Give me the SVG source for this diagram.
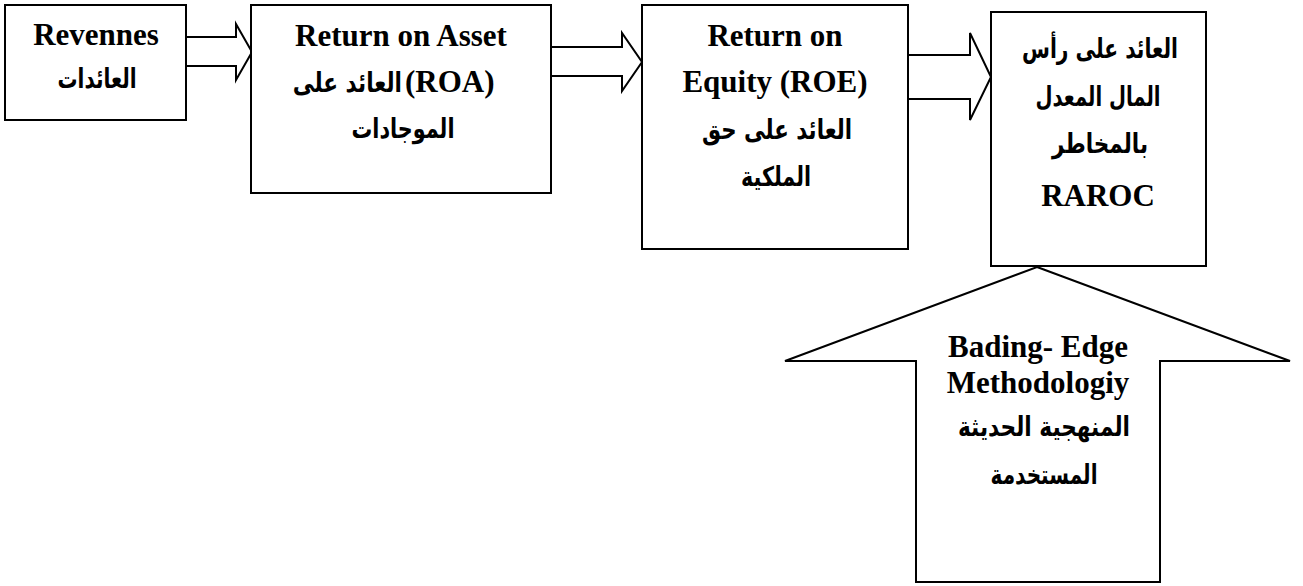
<svg xmlns="http://www.w3.org/2000/svg" width="1303" height="586" viewBox="0 0 1303 586">
<style>
.shape{fill:#fff;stroke:#000;stroke-width:2;stroke-linejoin:miter}
.en{font-family:"Liberation Serif","Times New Roman",serif;font-weight:bold;font-size:31px;fill:#000;text-anchor:middle}
.en0{font-family:"Liberation Serif","Times New Roman",serif;font-weight:bold;font-size:31px;fill:#000}
.ar{font-family:"DejaVu Sans","Noto Sans",sans-serif;font-weight:bold;font-size:27px;fill:#000;text-anchor:middle}
.ar1{font-family:"DejaVu Sans","Noto Sans",sans-serif;font-weight:bold;font-size:27px;fill:#000;text-anchor:end}
</style>
<rect width="1303" height="586" fill="#fff"/>
<g id="connectors">
<polygon class="shape" points="186,37 236,37 236,24 252,52 236,80 236,66 186,66"/>
<polygon class="shape" points="551,47 622,47 622,33 642,62 622,91 622,76 551,76"/>
<polygon class="shape" points="908,55 970,55 970,33 991,77 970,120 970,99 908,99"/>
</g>
<g id="node-revenues">
<rect class="shape" x="5" y="5" width="181" height="115"/>
<text class="en" x="96" y="45">Revennes</text>
<text class="ar" x="97" y="88" textLength="79" lengthAdjust="spacingAndGlyphs">العائدات</text>
</g>
<g id="node-roa">
<rect class="shape" x="251" y="5" width="300" height="188"/>
<text class="en" x="401" y="46">Return on Asset</text>
<text class="ar1" transform="translate(402,92) scale(0.8,1)">العائد على</text>
<text class="en0" x="405" y="92">(ROA)</text>
<text class="ar" x="403" y="138" textLength="103" lengthAdjust="spacingAndGlyphs">الموجادات</text>
</g>
<g id="node-roe">
<rect class="shape" x="642" y="5" width="266" height="244"/>
<text class="en" x="775" y="46">Return on</text>
<text class="en" x="775" y="92">Equity (ROE)</text>
<text class="ar" x="777" y="139" textLength="150" lengthAdjust="spacingAndGlyphs">العائد على حق</text>
<text class="ar" x="776" y="186" textLength="70" lengthAdjust="spacingAndGlyphs">الملكية</text>
</g>
<g id="node-raroc">
<rect class="shape" x="991" y="12" width="215" height="254"/>
<text class="ar" x="1100" y="58" textLength="156" lengthAdjust="spacingAndGlyphs">العائد على رأس</text>
<text class="ar" x="1098" y="106" textLength="125" lengthAdjust="spacingAndGlyphs">المال المعدل</text>
<text class="ar" x="1100" y="153" textLength="96" lengthAdjust="spacingAndGlyphs">بالمخاطر</text>
<text class="en" x="1098" y="206">RAROC</text>
</g>
<g id="node-methodology">
<polygon class="shape" points="1037,267 1290,361 1160,361 1160,582 916,582 916,361 785,361"/>
<text class="en" x="1038" y="357">Bading- Edge</text>
<text class="en" x="1038" y="393">Methodologiy</text>
<text class="ar" x="1044" y="436" textLength="172" lengthAdjust="spacingAndGlyphs">المنهجية الحديثة</text>
<text class="ar" x="1044" y="484" textLength="107" lengthAdjust="spacingAndGlyphs">المستخدمة</text>
</g>
</svg>
